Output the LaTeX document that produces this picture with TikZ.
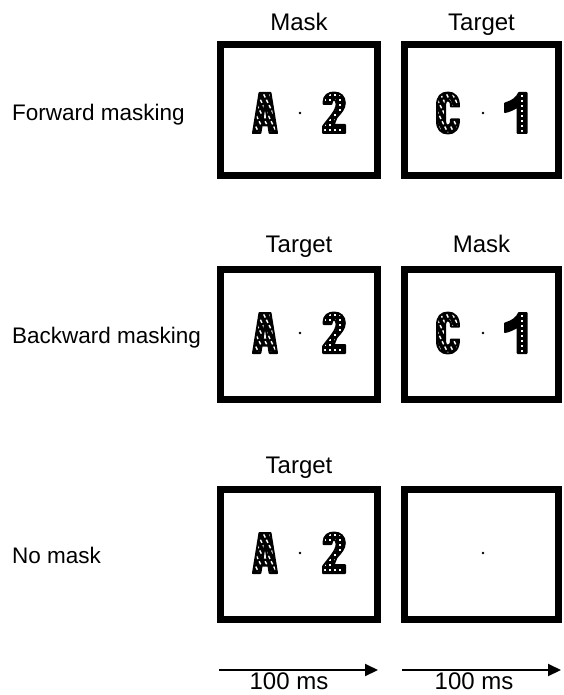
\documentclass[tikz,border=0pt]{standalone}
\usepackage{fontspec}
\setmainfont{Liberation Sans}
\usetikzlibrary{arrows.meta}

% Outlines of the heavy display characters, centred on (0,0), y downwards.
\newcommand\shapeA{(-12,20) -- (-5.5,-20) -- (5.5,-20) -- (12,20) -- (4.6,20)
  -- (3.4,12.5) -- (-3.4,12.5) -- (-4.6,20) -- cycle
  (-2.5,6.5) -- (0,-9.5) -- (2.5,6.5) -- cycle}
\newcommand\shapeTwo{(-10.5,-9) -- (-10.5,-10.5)
  .. controls (-10.5,-17.5) and (-5.5,-20.5) .. (0,-20.5)
  .. controls (6.5,-20.5) and (10.8,-16.5) .. (10.8,-10)
  .. controls (10.8,-4.5) and (7,-0.5) .. (2.5,4.5)
  -- (-0.5,12) -- (11,12) -- (11,20) -- (-11,20) -- (-11,13.5)
  .. controls (-5,5) and (2.6,-2) .. (2.6,-9)
  .. controls (2.6,-12) and (1.5,-13.2) .. (0,-13.2)
  .. controls (-1.6,-13.2) and (-2.6,-12) .. (-2.6,-9) -- cycle}
\newcommand\shapeC{(11,-6.5) -- (3,-6.5)
  .. controls (3,-11) and (1.6,-12.8) .. (0,-12.8)
  .. controls (-2,-12.8) and (-3,-11) .. (-3,-8) -- (-3,8)
  .. controls (-3,11) and (-2,12.8) .. (0,12.8)
  .. controls (1.6,12.8) and (3,11) .. (3,6.5) -- (11,6.5)
  .. controls (11,16) and (6.5,20.5) .. (0,20.5)
  .. controls (-7,20.5) and (-11,16) .. (-11,8) -- (-11,-8)
  .. controls (-11,-16) and (-7,-20.5) .. (0,-20.5)
  .. controls (6.5,-20.5) and (11,-16) .. (11,-6.5) -- cycle}
\newcommand\shapeOne{(1.5,20) -- (10.5,20) -- (10.5,-20) -- (3,-20)
  .. controls (1,-15) and (-4,-11.5) .. (-11,-9.5) -- (-11,-1)
  .. controls (-6,-2) and (-2,-4) .. (1.5,-6.5) -- cycle}

% a character at (x,y): black body, white texture clipped to it, black rim
\newcommand\textureglyph[4]{% x, y, outline, texture
  \begin{scope}[shift={(#1,#2)},even odd rule]
    \begin{scope}
      \clip #3;
      \fill[black] (-16,-24) rectangle (16,24);
      #4
    \end{scope}
    \draw[glyphrim] #3;
  \end{scope}}
\newcommand\streaks{\draw[streak]
  \foreach \k in {-40,-34,...,40} {(\k-12,-24) -- (\k+12,24)};}
\newcommand\dotgrid{\foreach \i in {-9,-4,...,11} {\foreach \j in {-18,-13,...,22}
  {\fill[white] (\i-1,\j-1) rectangle (\i+1,\j+1);}}}
\newcommand\dotcolumn{\foreach \j in {-17,-12,...,18}
  {\fill[white] (5,\j-1.1) rectangle (7,\j+1.1);}}

\begin{document}
\begin{tikzpicture}[x=1pt,y=-1pt,
  screenA/.style={draw=black,line width=7pt,minimum width=157pt,
    minimum height=130pt,inner sep=0pt,outer sep=0pt},
  screenB/.style={screenA,minimum width=154pt},
  steplabel/.style={font=\fontsize{24}{28}\selectfont,inner sep=0pt,anchor=base},
  rowlabel/.style={font=\fontsize{22.5}{27}\selectfont,inner sep=0pt,anchor=base west},
  timelabel/.style={font=\fontsize{24}{28}\selectfont,inner sep=0pt,anchor=base},
  timearrow/.style={line width=2pt,-{Triangle[length=13pt,width=12pt]}},
  streak/.style={white,line width=1.4pt,dash pattern=on 3.5pt off 2.5pt},
  glyphrim/.style={draw=black,line width=2pt,line join=round},
  fixdot/.style={fill=black}]
\useasboundingbox (0,0) rectangle (563,695);
\fill[white] (0,0) rectangle (563,695);

% condition names
\node[rowlabel] (cfwd) at (12,121) {Forward masking};
\node[rowlabel] (cbwd) at (12,343) {Backward masking};
\node[rowlabel] (cnone) at (12,563) {No mask};

% screens
\node[screenA] (s11) at (299,110) {};
\node[screenB] (s12) at (481.5,110) {};
\node[screenA] (s21) at (299,334) {};
\node[screenB] (s22) at (481.5,334) {};
\node[screenA] (s31) at (299,554) {};
\node[screenB] (s32) at (481.5,554) {};

% screen titles
\node[steplabel] (t11) at (299,31) {Mask};
\node[steplabel] (t12) at (481.5,31) {Target};
\node[steplabel] (t21) at (299,252) {Target};
\node[steplabel] (t22) at (481.5,252) {Mask};
\node[steplabel] (t31) at (299,473) {Target};

% fixation points
\fill[fixdot] (300,113) circle (1.3);
\fill[fixdot] (483,113) circle (1.3);
\fill[fixdot] (300,333) circle (1.3);
\fill[fixdot] (483,333) circle (1.3);
\fill[fixdot] (300,553) circle (1.3);
\fill[fixdot] (483,553) circle (1.3);

% letter and digit displays
\textureglyph{265}{113}{\shapeA}{\streaks}
\textureglyph{334}{113}{\shapeTwo}{\dotgrid}
\textureglyph{448}{113}{\shapeC}{\streaks}
\textureglyph{516}{113}{\shapeOne}{\dotcolumn}
\textureglyph{265}{333}{\shapeA}{\streaks}
\textureglyph{334}{333}{\shapeTwo}{\dotgrid}
\textureglyph{448}{333}{\shapeC}{\streaks}
\textureglyph{516}{333}{\shapeOne}{\dotcolumn}
\textureglyph{265}{553}{\shapeA}{\streaks}
\textureglyph{334}{553}{\shapeTwo}{\dotgrid}

% time line
\coordinate (a1s) at (219,670);
\coordinate (a1e) at (378,670);
\coordinate (a2s) at (402,670);
\coordinate (a2e) at (561,670);
\draw[timearrow] (a1s) -- (a1e);
\draw[timearrow] (a2s) -- (a2e);
\node[timelabel] (d1) at (289,689) {100 ms};
\node[timelabel] (d2) at (474,689) {100 ms};
\end{tikzpicture}
\end{document}
